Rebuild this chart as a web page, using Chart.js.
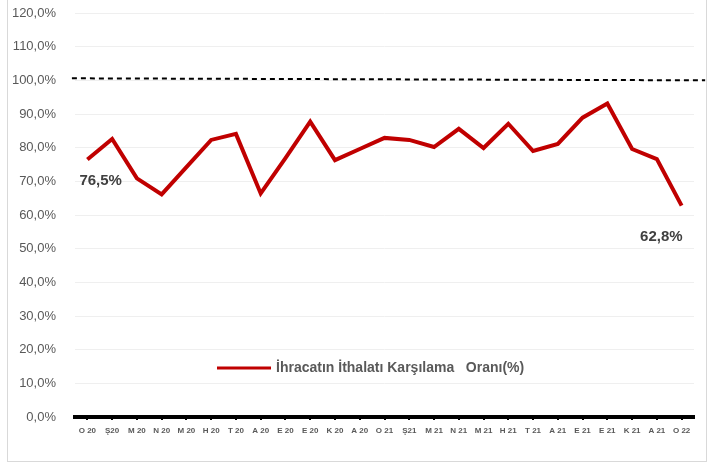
<!DOCTYPE html>
<html>
<head>
<meta charset="utf-8">
<script src="https://cdn.jsdelivr.net/npm/chart.js@4.4.0/dist/chart.umd.min.js"></script>
<style>
  html, body { margin: 0; padding: 0; background: #fff; }
  #frame { position: absolute; left: 7px; top: -1px; width: 698px; height: 461px; border: 1px solid #d9d9d9; }
  #wrap { position: absolute; left: 0; top: 0; width: 710px; height: 466px; }
</style>
</head>
<body>
<div id="frame"></div>
<div id="wrap"><canvas id="oran"></canvas></div>
<script>
const aylar = ['O 20', 'Ş20', 'M 20', 'N 20', 'M 20', 'H 20', 'T 20', 'A 20', 'E 20', 'E 20', 'K 20', 'A 20',
  'O 21', 'Ş21', 'M 21', 'N 21', 'M 21', 'H 21', 'T 21', 'A 21', 'E 21', 'E 21', 'K 21', 'A 21', 'O 22'];
const karsilamaOrani = [76.5, 82.6, 70.9, 66.1, 74.2, 82.3, 84.1, 66.4, 76.9, 87.7, 76.3, 79.6,
  82.9, 82.3, 80.2, 85.6, 79.9, 87.1, 79.0, 81.1, 88.9, 93.1, 79.6, 76.6, 62.8];
const esikCizgisi = [100.6, 100.0];
const yTicks = [0, 10, 20, 30, 40, 50, 60, 70, 80, 90, 100, 110, 120];

const yuzde = v => v.toFixed(1).replace('.', ',') + '%';

// legend inside the plot and the two end labels
const ekYazilar = {
  id: 'ekYazilar',
  afterDatasetsDraw(chart) {
    const ctx = chart.ctx;
    const meta = chart.getDatasetMeta(0);
    const pts = meta.data;
    ctx.save();
    ctx.fillStyle = '#404040';
    ctx.font = 'bold 15px "Liberation Sans"';
    ctx.textBaseline = 'middle';
    ctx.textAlign = 'left';
    const ilk = pts[0];
    ctx.fillText(yuzde(karsilamaOrani[0]), ilk.x - 8, ilk.y + 21);
    const son = pts[pts.length - 1];
    ctx.textAlign = 'right';
    ctx.fillText(yuzde(karsilamaOrani[karsilamaOrani.length - 1]), son.x + 1, son.y + 31);

    // legend
    const lx = 217, ly = 368;
    ctx.strokeStyle = '#c00000';
    ctx.lineWidth = 3;
    ctx.beginPath();
    ctx.moveTo(lx, ly);
    ctx.lineTo(lx + 54, ly);
    ctx.stroke();
    ctx.fillStyle = '#595959';
    ctx.font = 'bold 14px "Liberation Sans"';
    ctx.textAlign = 'left';
    ctx.fillText(chart.data.datasets[0].label, lx + 59, ly);
    ctx.restore();
  }
};

new Chart(document.getElementById('oran'), {
  type: 'line',
  data: {
    labels: aylar,
    datasets: [
      {
        label: 'İhracatın İthalatı Karşılama   Oranı(%)',
        data: karsilamaOrani,
        borderColor: '#c00000',
        borderWidth: 4,
        pointRadius: 0,
        tension: 0,
        fill: false
      },
      {
        label: 'esik',
        data: [{x: -0.005, y: esikCizgisi[0]}, {x: 1.018, y: esikCizgisi[1]}],
        xAxisID: 'x2',
        borderColor: '#000',
        borderWidth: 2,
        borderDash: [5, 4],
        pointRadius: 0,
        clip: false,
        fill: false
      }
    ]
  },
  options: {
    responsive: true,
    maintainAspectRatio: false,
    animation: false,
    layout: { padding: { top: 13, right: 16, left: 0, bottom: 0 } },
    plugins: {
      legend: { display: false },
      tooltip: { enabled: false }
    },
    scales: {
      x: {
        offset: true,
        grid: { display: true, drawOnChartArea: false, color: '#000', lineWidth: 2, tickLength: 3 },
        border: { display: true, color: '#000', width: 4 },
        ticks: {
          autoSkip: false, maxRotation: 0, minRotation: 0, padding: 6,
          color: '#595959', font: { family: 'Liberation Sans', size: 8, weight: 'bold' }
        },
        afterFit(scale) { scale.height = 49; }
      },
      x2: {
        type: 'linear', display: false, min: 0, max: 1
      },
      y: {
        min: 0, max: 120,
        afterBuildTicks(scale) { scale.ticks = yTicks.map(v => ({ value: v })); },
        grid: { color: '#efefef', lineWidth: 1, drawTicks: false },
        border: { display: false },
        ticks: {
          padding: 19,
          color: '#595959',
          font: { family: 'Liberation Sans', size: 13 },
          callback: v => yuzde(v)
        },
        afterFit(scale) {
          scale.width = 75;
          scale.paddingTop = 0;
          scale.paddingBottom = 0;
        }
      }
    }
  },
  plugins: [ekYazilar]
});
</script>
</body>
</html>
